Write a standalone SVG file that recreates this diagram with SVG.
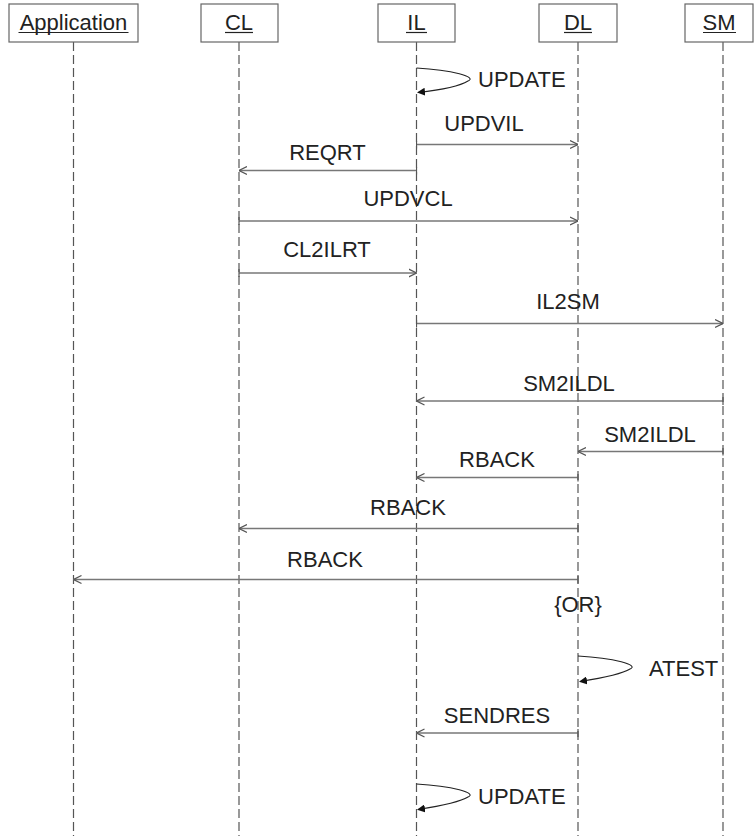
<svg xmlns="http://www.w3.org/2000/svg" width="755" height="836" viewBox="0 0 755 836">
<style>
.box{fill:#fff;stroke:#666;stroke-width:1.2}
.life{stroke:#555;stroke-width:1.2;stroke-dasharray:9,4;fill:none}
.msg{stroke:#777;stroke-width:1.3;fill:none;marker-end:url(#open);marker-start:url(#tick)}
.self{stroke:#222;stroke-width:1.1;fill:none;marker-end:url(#fill)}
text{font-family:"Liberation Sans",Arial,sans-serif;font-size:22px;fill:#222}
.c{text-anchor:middle}
.ul{stroke:#222;stroke-width:1.2}
</style>
<defs>
<marker id="open" viewBox="0 0 8 10" refX="8" refY="5" markerWidth="8" markerHeight="10" markerUnits="userSpaceOnUse" orient="auto">
<path d="M0,1 L8,5 L0,9" fill="none" stroke="#555" stroke-width="1.2"/>
</marker>
<marker id="tick" viewBox="0 0 2 8" refX="1" refY="4" markerWidth="2" markerHeight="8" markerUnits="userSpaceOnUse" orient="auto">
<path d="M1,0 L1,8" stroke="#555" stroke-width="1.2"/>
</marker>
<marker id="fill" viewBox="0 0 8 8" refX="7" refY="4" markerWidth="8" markerHeight="8" markerUnits="userSpaceOnUse" orient="auto">
<path d="M0,0 L8,4 L0,8 Z" fill="#111"/>
</marker>
</defs>
<rect width="755" height="836" fill="#fff"/>
<g id="lifelines">
<line class="life" x1="73.5" y1="42" x2="73.5" y2="836"/>
<line class="life" x1="239" y1="42" x2="239" y2="836"/>
<line class="life" x1="416.5" y1="42" x2="416.5" y2="836"/>
<line class="life" x1="578" y1="42" x2="578" y2="836"/>
<line class="life" x1="723" y1="42" x2="723" y2="836"/>
</g>
<g id="node-application">
<rect class="box" x="9" y="4" width="129" height="38"/>
<text class="c" x="73.5" y="30">Application</text>
<line class="ul" x1="18.5" y1="32.5" x2="128.5" y2="32.5"/>
</g>
<g id="node-cl">
<rect class="box" x="201" y="4" width="77" height="38"/>
<text class="c" x="239" y="30">CL</text>
<line class="ul" x1="225" y1="32.5" x2="253" y2="32.5"/>
</g>
<g id="node-il">
<rect class="box" x="378" y="4" width="77" height="38"/>
<text class="c" x="416.5" y="30">IL</text>
<line class="ul" x1="406" y1="32.5" x2="427" y2="32.5"/>
</g>
<g id="node-dl">
<rect class="box" x="539" y="4" width="78" height="38"/>
<text class="c" x="578" y="30">DL</text>
<line class="ul" x1="564" y1="32.5" x2="592" y2="32.5"/>
</g>
<g id="node-sm">
<rect class="box" x="685" y="4" width="68" height="38"/>
<text class="c" x="719" y="30">SM</text>
<line class="ul" x1="703" y1="32.5" x2="736" y2="32.5"/>
</g>
<g id="connectors">
<path class="self" d="M416.5,68 C452,70 478,77 468,81 C460,86 440,90 418,92.5"/>
<line class="msg" x1="416.5" y1="144.5" x2="578" y2="144.5"/>
<line class="msg" x1="416.5" y1="170.5" x2="239" y2="170.5"/>
<line class="msg" x1="239" y1="221" x2="578" y2="221"/>
<line class="msg" x1="239" y1="273" x2="416.5" y2="273"/>
<line class="msg" x1="416.5" y1="323.5" x2="723" y2="323.5"/>
<line class="msg" x1="723" y1="401" x2="416.5" y2="401"/>
<line class="msg" x1="723" y1="451.5" x2="578" y2="451.5"/>
<line class="msg" x1="578" y1="477.5" x2="416.5" y2="477.5"/>
<line class="msg" x1="578" y1="528.5" x2="239" y2="528.5"/>
<line class="msg" x1="578" y1="579.5" x2="73.5" y2="579.5"/>
<path class="self" d="M578,656 C614,658 640,665 630,669 C622,674 602,678 580,681.5"/>
<line class="msg" x1="578" y1="733" x2="416.5" y2="733"/>
<path class="self" d="M416.5,784 C452,786 478,793 468,797 C460,802 440,806 418,809.5"/>
</g>
<g id="labels">
<text x="478" y="87">UPDATE</text>
<text class="c" x="484" y="131">UPDVIL</text>
<text class="c" x="327.5" y="160">REQRT</text>
<text class="c" x="408" y="206">UPDVCL</text>
<text class="c" x="327" y="257">CL2ILRT</text>
<text class="c" x="568" y="309">IL2SM</text>
<text class="c" x="569" y="391">SM2ILDL</text>
<text class="c" x="650" y="442">SM2ILDL</text>
<text class="c" x="497" y="467">RBACK</text>
<text class="c" x="408" y="515">RBACK</text>
<text class="c" x="325" y="567">RBACK</text>
<text class="c" x="578" y="612">{OR}</text>
<text x="649" y="676">ATEST</text>
<text class="c" x="497" y="723">SENDRES</text>
<text x="478" y="804">UPDATE</text>
</g>
</svg>
